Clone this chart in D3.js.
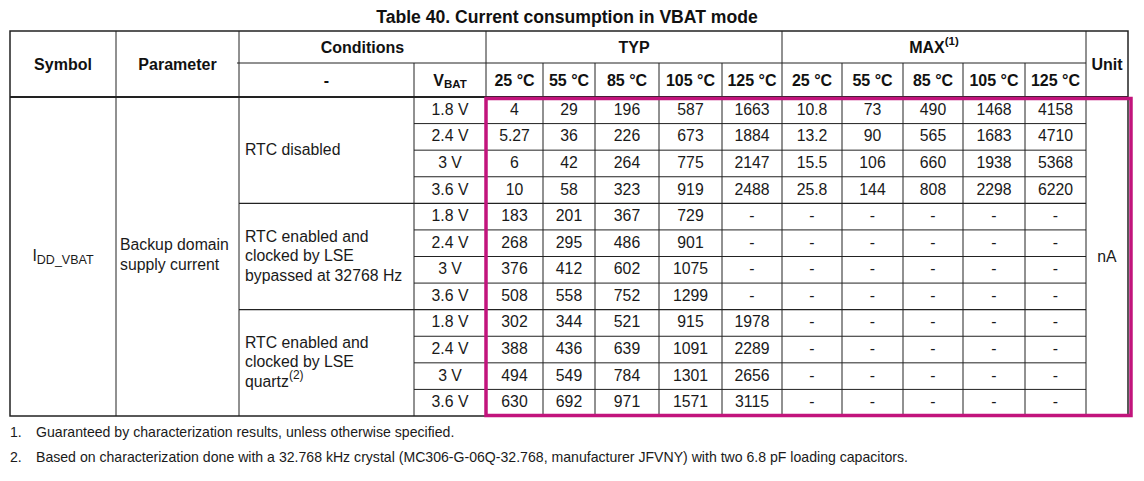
<!DOCTYPE html>
<html>
<head>
<meta charset="utf-8">
<script src="https://cdn.jsdelivr.net/npm/d3@7"></script>
<style>
  body { margin: 0; background: #fff; }
  svg { display: block; font-family: "Liberation Sans", Arial, sans-serif; }
</style>
</head>
<body>
<svg id="table-svg" width="1144" height="481"></svg>
<script>
// table data
const title = "Table 40. Current consumption in VBAT mode";
const temps = ["25 °C", "55 °C", "85 °C", "105 °C", "125 °C"];
const vbat = ["1.8 V", "2.4 V", "3 V", "3.6 V"];
const conditionLines = [
    ["RTC disabled"],
    ["RTC enabled and", "clocked by LSE", "bypassed at 32768 Hz"],
    ["RTC enabled and", "clocked by LSE", "quartz"]
];
const parameterLines = ["Backup domain", "supply current"];
const unit = "nA";

// TYP values per condition group (rows = VBAT), null = "-"
const typRtcDisabled = [
    [4, 29, 196, 587, 1663],
    [5.27, 36, 226, 673, 1884],
    [6, 42, 264, 775, 2147],
    [10, 58, 323, 919, 2488]
];
const typLseBypassed = [
    [183, 201, 367, 729, null],
    [268, 295, 486, 901, null],
    [376, 412, 602, 1075, null],
    [508, 558, 752, 1299, null]
];
const typLseQuartz = [
    [302, 344, 521, 915, 1978],
    [388, 436, 639, 1091, 2289],
    [494, 549, 784, 1301, 2656],
    [630, 692, 971, 1571, 3115]
];
// MAX values, only given for RTC disabled
const maxRtcDisabled = [
    [10.8, 73, 490, 1468, 4158],
    [13.2, 90, 565, 1683, 4710],
    [15.5, 106, 660, 1938, 5368],
    [25.8, 144, 808, 2298, 6220]
];
const maxEmpty = vbat.map(() => temps.map(() => null));

const footnotes = [
    "Guaranteed by characterization results, unless otherwise specified.",
    "Based on characterization done with a 32.768 kHz crystal (MC306-G-06Q-32.768, manufacturer JFVNY) with two 6.8 pF loading capacitors."
];

const groups = [
    { lines: conditionLines[0], typ: typRtcDisabled, max: maxRtcDisabled },
    { lines: conditionLines[1], typ: typLseBypassed, max: maxEmpty },
    { lines: conditionLines[2], typ: typLseQuartz, max: maxEmpty, note: "(2)" }
];

// flat rows
const rows = [];
groups.forEach((g, gi) => {
    vbat.forEach((v, vi) => {
        rows.push({ group: gi, vbat: v, values: g.typ[vi].concat(g.max[vi]) });
    });
});

// layout
const colEdges = [10, 116, 239, 414, 486, 543, 595, 659, 722, 782, 842, 903, 963, 1025, 1086, 1128];
const headTop = 31, headMid = 63, headBottom = 97, tableBottom = 416;
const ink = "#222";
const fontSize = 15.8;

const svg = d3.select("#table-svg");

const y = d3.scaleBand()
    .domain(d3.range(rows.length))
    .range([headBottom, tableBottom]);
const rh = y.bandwidth();

const valueCols = d3.range(10).map(i => ({ x0: colEdges[4 + i], x1: colEdges[5 + i] }));
const cx = (a, b) => (a + b) / 2;

// title
svg.append("text")
    .attr("x", 567)
    .attr("y", 23)
    .attr("text-anchor", "middle")
    .attr("font-size", 17.6)
    .attr("font-weight", "bold")
    .attr("fill", "#111")
    .text(title);

const lines = svg.append("g").attr("stroke", ink).attr("fill", "none");
function hline(x0, x1, yy, w) {
    lines.append("line").attr("x1", x0).attr("x2", x1).attr("y1", yy).attr("y2", yy).attr("stroke-width", w || 1);
}
function vline(xx, y0, y1, w) {
    lines.append("line").attr("x1", xx).attr("x2", xx).attr("y1", y0).attr("y2", y1).attr("stroke-width", w || 1);
}

// header grid
hline(colEdges[2] - 2, colEdges[14], headMid);
[1, 2, 4, 9, 14].forEach(i => vline(colEdges[i], headTop, headBottom));
[3, 5, 6, 7, 8, 10, 11, 12, 13].forEach(i => vline(colEdges[i], headMid, headBottom));

// body grid
rows.forEach((r, i) => {
    if (i === 0) return;
    const newGroup = r.group !== rows[i - 1].group;
    hline(newGroup ? colEdges[2] : colEdges[3], colEdges[14], y(i), newGroup ? 1.3 : 1);
});
d3.range(1, 15).forEach(i => vline(colEdges[i], headBottom, tableBottom));

// outer border + heavy header rule
lines.append("rect")
    .attr("x", colEdges[0]).attr("y", headTop)
    .attr("width", colEdges[15] - colEdges[0]).attr("height", tableBottom - headTop)
    .attr("stroke-width", 1.5);
hline(colEdges[0], colEdges[15], headBottom, 2.2);

// header text
const head = svg.append("g")
    .attr("font-size", 16)
    .attr("font-weight", "bold")
    .attr("fill", "#111")
    .attr("text-anchor", "middle")
    .attr("dominant-baseline", "central");

const midHead = (headTop + headBottom) / 2;
head.append("text").attr("x", cx(colEdges[0], colEdges[1])).attr("y", midHead).text("Symbol");
head.append("text").attr("x", cx(colEdges[1], colEdges[2])).attr("y", midHead).text("Parameter");
head.append("text").attr("x", cx(colEdges[14], colEdges[15])).attr("y", midHead).text("Unit");
head.append("text").attr("x", cx(colEdges[2], colEdges[4])).attr("y", cx(headTop, headMid)).text("Conditions");
head.append("text").attr("x", cx(colEdges[4], colEdges[9])).attr("y", cx(headTop, headMid)).text("TYP");
const maxT = head.append("text").attr("x", cx(colEdges[9], colEdges[14])).attr("y", cx(headTop, headMid));
maxT.append("tspan").text("MAX");
maxT.append("tspan").attr("font-size", 11.5).attr("dy", -6).text("(1)");
head.append("text").attr("x", cx(colEdges[2], colEdges[3])).attr("y", cx(headMid, headBottom)).text("-");
const vT = head.append("text").attr("x", cx(colEdges[3], colEdges[4])).attr("y", cx(headMid, headBottom));
vT.append("tspan").text("V");
vT.append("tspan").attr("font-size", 11.5).attr("dy", 4).text("BAT");

head.selectAll(".temp")
    .data(temps.concat(temps))
    .join("text")
    .attr("class", "temp")
    .attr("x", (d, i) => cx(valueCols[i].x0, valueCols[i].x1))
    .attr("y", cx(headMid, headBottom))
    .text(d => d);

// body text
const body = svg.append("g")
    .attr("font-size", fontSize)
    .attr("fill", "#1a1a1a")
    .attr("dominant-baseline", "central");

const midBody = (headBottom + tableBottom) / 2;
const sym = body.append("text").attr("x", cx(colEdges[0], colEdges[1])).attr("y", midBody - 2).attr("text-anchor", "middle");
sym.append("tspan").text("I");
sym.append("tspan").attr("font-size", 12.5).attr("dy", 5).text("DD_VBAT");

body.selectAll(".param")
    .data(parameterLines)
    .join("text")
    .attr("class", "param")
    .attr("x", colEdges[1] + 4)
    .attr("y", (d, i) => midBody - 2 + (i - (parameterLines.length - 1) / 2) * 19.5)
    .text(d => d);

body.append("text").attr("x", cx(colEdges[14], colEdges[15])).attr("y", midBody)
    .attr("text-anchor", "middle").text(unit);

groups.forEach((g, gi) => {
    const gy = cx(y(gi * 4), y(gi * 4 + 3) + rh) - 1.5;
    g.lines.forEach((ln, li) => {
        const t = body.append("text")
            .attr("x", colEdges[2] + 6)
            .attr("y", gy + (li - (g.lines.length - 1) / 2) * 19.5);
        t.append("tspan").text(ln);
        if (g.note && li === g.lines.length - 1) {
            t.append("tspan").attr("font-size", 12).attr("dy", -6).text(g.note);
        }
    });
});

const rowG = body.selectAll(".row")
    .data(rows)
    .join("g")
    .attr("class", "row")
    .attr("transform", (d, i) => `translate(0, ${y(i) + rh / 2 - 1})`)
    .attr("text-anchor", "middle");

rowG.append("text")
    .attr("x", cx(colEdges[3], colEdges[4]))
    .text(d => d.vbat);

rowG.selectAll(".val")
    .data(d => d.values)
    .join("text")
    .attr("class", "val")
    .attr("x", (d, i) => cx(valueCols[i].x0, valueCols[i].x1))
    .text(d => d === null ? "-" : d);

// highlight box
svg.append("rect")
    .attr("x", 486)
    .attr("y", 98.5)
    .attr("width", 1131 - 486)
    .attr("height", 415.5 - 98.5)
    .attr("fill", "none")
    .attr("stroke", "#c2147c")
    .attr("stroke-width", 3.5);

// footnotes
const notes = svg.append("g").attr("font-size", 14.1).attr("fill", "#1a1a1a");
footnotes.forEach((f, i) => {
    const ny = 437 + i * 24.5;
    notes.append("text").attr("x", 10).attr("y", ny).text((i + 1) + ".");
    notes.append("text").attr("x", 36).attr("y", ny).text(f);
});
</script>
</body>
</html>
